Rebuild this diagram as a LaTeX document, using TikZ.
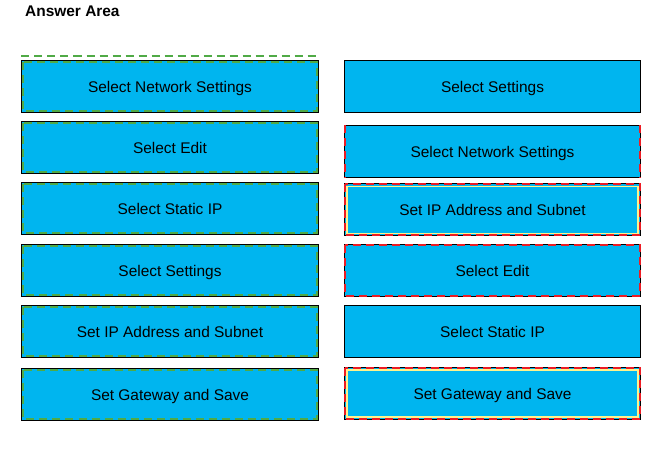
\documentclass[tikz,border=0pt]{standalone}
\usepackage{fontspec}
\setmainfont{Liberation Sans}
\definecolor{boxblue}{RGB}{0,181,239}
\definecolor{markgreen}{RGB}{80,170,70}
\definecolor{markred}{RGB}{237,28,36}
\definecolor{markyellow}{RGB}{255,242,140}
\begin{document}
\begin{tikzpicture}[x=1bp,y=-1bp]
\tikzstyle{every node}+=[inner sep=0pt]
\tikzstyle{stepbox}=[draw=black, line width=1bp, fill=boxblue, minimum width=296bp, minimum height=52bp, text height=12bp, text depth=0bp, font=\fontsize{15.5}{18}\selectfont]
\tikzstyle{greendash}=[draw=markgreen, line width=2bp, dash pattern=on 8bp off 5bp]
\tikzstyle{reddash}=[draw=markred, line width=2bp, dash pattern=on 8bp off 5bp]
\useasboundingbox (0,0) rectangle (665,455);
\node[anchor=west, font=\fontsize{15.5}{18}\selectfont\bfseries] (title) at (25,11) {Answer Area};
% left column
\node[stepbox] (l1) at (170,87) {Select Network Settings};
\node[stepbox] (l2) at (170,148) {Select Edit};
\node[stepbox] (l3) at (170,209) {Select Static IP};
\node[stepbox] (l4) at (170,270.5) {Select Settings};
\node[stepbox] (l5) at (170,331.5) {Set IP Address and Subnet};
\node[stepbox] (l6) at (170,394) {Set Gateway and Save};
\draw[greendash] ([yshift=4bp]l1.north west) -- ([yshift=4bp]l1.north east);
\foreach \b in {l1,l2,l3,l4,l5,l6}
  \draw[greendash] ([xshift=2bp,yshift=-2bp]\b.north west) rectangle ([xshift=-2bp,yshift=2bp]\b.south east);
% right column
\node[stepbox] (r1) at (492.5,86.5) {Select Settings};
\node[stepbox] (r2) at (492.5,152) {Select Network Settings};
\node[stepbox] (r3) at (492.5,210) {Set IP Address and Subnet};
\node[stepbox] (r4) at (492.5,270.5) {Select Edit};
\node[stepbox] (r5) at (492.5,331.5) {Select Static IP};
\node[stepbox] (r6) at (492.5,393.5) {Set Gateway and Save};
\draw[reddash] ([xshift=1bp]r2.north west) -- ([xshift=1bp]r2.south west);
\draw[reddash] ([xshift=-1bp]r2.north east) -- ([xshift=-1bp]r2.south east);
\foreach \b in {r3,r6}
  \draw[markyellow, line width=1.2bp] ([xshift=3bp,yshift=-3bp]\b.north west) rectangle ([xshift=-3bp,yshift=3bp]\b.south east);
\foreach \b in {r3,r4,r6}
  \draw[reddash] ([xshift=1bp,yshift=-1bp]\b.north west) rectangle ([xshift=-1bp,yshift=1bp]\b.south east);
\end{tikzpicture}
\end{document}
